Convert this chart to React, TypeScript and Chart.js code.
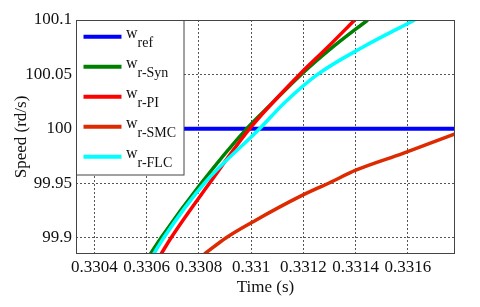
import React, { useEffect, useRef } from 'react';
import { Chart, registerables } from 'chart.js';

Chart.register(...registerables);

const seriesNames = ['ref', 'r-Syn', 'r-PI', 'r-SMC', 'r-FLC'];
const seriesColors = ['#0000ff', '#008000', '#ff0000', '#dd2a00', '#00ffff'];

const refTime = [0.33033, 0.33178];
const refSpeed = [100, 100];

const synTime = [0.3306145, 0.3306555, 0.3308088, 0.3309823, 0.331082, 0.3311919, 0.3313118, 0.3314459];
const synSpeed = [99.885, 99.9, 99.95, 100.0, 100.024, 100.05, 100.075, 100.1];

const piTime = [0.3306555, 0.3306939, 0.3308406, 0.3309938, 0.3311854, 0.3312926, 0.3313961];
const piSpeed = [99.885, 99.9, 99.95, 100.0, 100.05, 100.075, 100.1];

const smcTime = [0.3308214, 0.3309046, 0.3310195, 0.3311854, 0.3313003, 0.3314026, 0.3315811, 0.33178];
const smcSpeed = [99.885, 99.9, 99.9163, 99.9377, 99.9505, 99.9622, 99.9775, 99.9953];

const flcTime = [0.3306272, 0.3306655, 0.3308214, 0.3310321, 0.3311279, 0.3312543, 0.3314267, 0.331626];
const flcSpeed = [99.885, 99.9, 99.95, 100.0, 100.024, 100.05, 100.075, 100.1];

const xTicks = [0.3304, 0.3306, 0.3308, 0.331, 0.3312, 0.3314, 0.3316];
const xTickLabels = ['0.3304', '0.3306', '0.3308', '0.331', '0.3312', '0.3314', '0.3316'];
const yTicks = [99.9, 99.95, 100, 100.05, 100.1];
const yTickLabels = ['99.9', '99.95', '100', '100.05', '100.1'];

const xRange = [0.33033, 0.33178];
const yRange = [99.885, 100.1];

const seriesTimes = [refTime, synTime, piTime, smcTime, flcTime];
const seriesSpeeds = [refSpeed, synSpeed, piSpeed, smcSpeed, flcSpeed];

const FONT = "'Liberation Serif', 'Times New Roman', serif";

const legendPlugin = {
  id: 'customLegend',
  afterDatasetsDraw(chart: any) {
    const { ctx, chartArea } = chart;
    const left = chartArea.left;
    const top = chartArea.top;
    ctx.save();
    ctx.fillStyle = '#ffffff';
    ctx.fillRect(left, top, 108, 155);
    ctx.strokeStyle = '#444';
    ctx.lineWidth = 1;
    ctx.strokeRect(left + 0.5, top + 0.5, 107.5, 154.5);
    seriesNames.forEach((name, i) => {
      const y = top + 16.7 + i * 30;
      ctx.strokeStyle = seriesColors[i];
      ctx.lineWidth = 4;
      ctx.beginPath();
      ctx.moveTo(left + 7.5, y);
      ctx.lineTo(left + 45.5, y);
      ctx.stroke();
      ctx.fillStyle = '#111';
      ctx.textAlign = 'left';
      ctx.textBaseline = 'alphabetic';
      ctx.font = `16px ${FONT}`;
      ctx.fillText('w', left + 50, y + 0.8);
      ctx.font = `14px ${FONT}`;
      ctx.fillText(name, left + 61.5, y + 10.6);
    });
    ctx.restore();
  },
  afterDraw(chart: any) {
    const { ctx, chartArea } = chart;
    ctx.save();
    ctx.strokeStyle = '#444';
    ctx.lineWidth = 1;
    ctx.strokeRect(
      Math.round(chartArea.left) + 0.5,
      Math.round(chartArea.top) + 0.5,
      Math.round(chartArea.right - chartArea.left) - 1,
      Math.round(chartArea.bottom - chartArea.top) - 1
    );
    ctx.restore();
  },
};

export default function App() {
  const canvasRef = useRef<HTMLCanvasElement | null>(null);

  useEffect(() => {
    if (!canvasRef.current) return;
    const orders = [5, 4, 3, 2, 1];
    const widths = [4, 3.5, 3.5, 3.5, 3.5];
    const chart = new Chart(canvasRef.current, {
      type: 'line',
      data: {
        datasets: seriesNames.map((name, i) => ({
          label: name,
          data: seriesTimes[i].map((t, j) => ({ x: t, y: seriesSpeeds[i][j] })),
          borderColor: seriesColors[i],
          backgroundColor: seriesColors[i],
          borderWidth: widths[i],
          pointRadius: 0,
          fill: false,
          cubicInterpolationMode: 'monotone' as const,
          order: orders[i],
        })),
      },
      options: {
        animation: false,
        responsive: false,
        maintainAspectRatio: false,
        layout: { padding: { top: 20, right: 25, left: 0, bottom: 0 } },
        plugins: {
          legend: { display: false },
          tooltip: { enabled: false },
        },
        scales: {
          x: {
            type: 'linear',
            min: xRange[0],
            max: xRange[1],
            afterFit: (scale: any) => {
              scale.height = 53;
            },
            afterBuildTicks: (scale: any) => {
              scale.ticks = xTicks.map((v) => ({ value: v }));
            },
            ticks: {
              autoSkip: false,
              maxRotation: 0,
              padding: 3,
              color: '#111',
              font: { family: FONT, size: 17 },
              callback: (value: any) => {
                const idx = xTicks.findIndex((v) => Math.abs(v - Number(value)) < 1e-9);
                return idx >= 0 ? xTickLabels[idx] : '';
              },
            },
            grid: { color: '#555', lineWidth: 1, drawTicks: false },
            border: { display: false, dash: [2, 2] },
            title: {
              display: true,
              text: 'Time (s)',
              color: '#111',
              font: { family: FONT, size: 17 },
              padding: { top: 0, bottom: 9 },
            },
          },
          y: {
            type: 'linear',
            min: yRange[0],
            max: yRange[1],
            afterFit: (scale: any) => {
              scale.width = 76;
            },
            afterBuildTicks: (scale: any) => {
              scale.ticks = yTicks.map((v) => ({ value: v }));
            },
            ticks: {
              autoSkip: false,
              padding: 4,
              color: '#111',
              font: { family: FONT, size: 17 },
              callback: (value: any) => {
                const idx = yTicks.findIndex((v) => Math.abs(v - Number(value)) < 1e-9);
                return idx >= 0 ? yTickLabels[idx] : '';
              },
            },
            grid: { color: '#555', lineWidth: 1, drawTicks: false },
            border: { display: false, dash: [2, 2] },
            title: {
              display: true,
              text: 'Speed (rd/s)',
              color: '#111',
              font: { family: FONT, size: 17 },
              padding: { top: 11, bottom: 0 },
            },
          },
        },
      },
      plugins: [legendPlugin],
    });
    return () => chart.destroy();
  }, []);

  return (
    <div style={{ position: 'fixed', left: 0, top: 0, width: 480, height: 307, background: '#fff' }}>
      <canvas ref={canvasRef} width={480} height={307} style={{ display: 'block' }} />
    </div>
  );
}
